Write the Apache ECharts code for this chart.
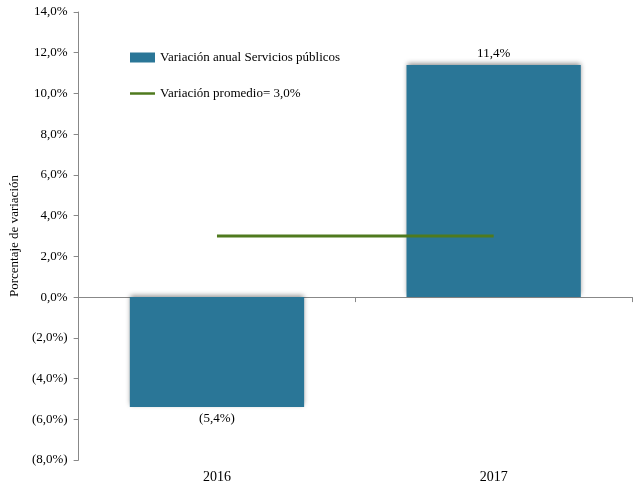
<!DOCTYPE html>
<html>
<head>
<meta charset="utf-8">
<script src="https://cdn.jsdelivr.net/npm/echarts@6/dist/echarts.min.js"></script>
<style>
  html, body { margin: 0; padding: 0; background: #fff; }
  #main { width: 633px; height: 494px; }
</style>
</head>
<body>
<div id="main"></div>
<script>
// data
var categories = ['2016', '2017'];
var variacionAnual = [-5.4, 11.4];
var variacionPromedio = [3.0, 3.0];

var FONT = '"Liberation Serif", "DejaVu Serif", serif';

function pct(v) {
  var s = Math.abs(v).toFixed(1).replace('.', ',') + '%';
  return v < 0 ? '(' + s + ')' : s;
}

var chart = echarts.init(document.getElementById('main'));

chart.setOption({
  animation: false,
  textStyle: { fontFamily: FONT, color: '#000' },
  grid: { left: 78, right: 1, top: 12, bottom: 34 },
  legend: {
    orient: 'vertical',
    left: 125,
    top: 46,
    itemWidth: 25,
    itemHeight: 10,
    itemGap: 23,
    textStyle: { fontFamily: FONT, fontSize: 13, color: '#000' },
    data: [
      { name: 'Variación anual Servicios públicos', icon: 'rect' },
      { name: 'Variación promedio= 3,0%', icon: 'path://M0,0 H30 V3 H0 Z' }
    ]
  },
  xAxis: [
    {
      type: 'category',
      data: categories,
      axisLine: { onZero: true, lineStyle: { color: '#888' } },
      axisTick: { show: true, length: 5, lineStyle: { color: '#888' } },
      axisLabel: { show: false }
    },
    {
      type: 'category',
      data: categories,
      position: 'bottom',
      axisLine: { show: false, onZero: false },
      axisTick: { show: false },
      axisLabel: { fontFamily: FONT, fontSize: 14, color: '#000', margin: 10 }
    }
  ],
  yAxis: {
    type: 'value',
    min: -8,
    max: 14,
    interval: 2,
    name: 'Porcentaje de variación',
    nameLocation: 'middle',
    nameGap: 53,
    nameTextStyle: { fontFamily: FONT, fontSize: 13, color: '#000' },
    axisLine: { show: true, lineStyle: { color: '#888' } },
    axisTick: { show: true, length: 5, lineStyle: { color: '#888' } },
    splitLine: { show: false },
    axisLabel: {
      fontFamily: FONT, fontSize: 13, color: '#000', margin: 11,
      formatter: pct
    }
  },
  series: [
    {
      name: 'Variación anual Servicios públicos',
      type: 'bar',
      xAxisIndex: 0,
      barWidth: '63%',
      data: variacionAnual.map(function (v) {
        // negative bar gets its label underneath
        return v < 0 ? { value: v, label: { position: 'bottom' } } : v;
      }),
      itemStyle: {
        color: '#2A7697',
        shadowColor: 'rgba(0,0,0,0.45)',
        shadowBlur: 5,
        shadowOffsetY: -2
      },
      label: {
        show: true,
        fontFamily: FONT,
        fontSize: 13,
        color: '#000',
        distance: 5,
        position: 'top',
        formatter: function (p) { return pct(p.value); }
      }
    },
    {
      name: 'Variación promedio= 3,0%',
      type: 'line',
      xAxisIndex: 0,
      data: variacionPromedio,
      symbol: 'none',
      lineStyle: { color: '#4F7A1E', width: 3 },
      itemStyle: { color: '#4F7A1E' }
    }
  ]
});
</script>
</body>
</html>
